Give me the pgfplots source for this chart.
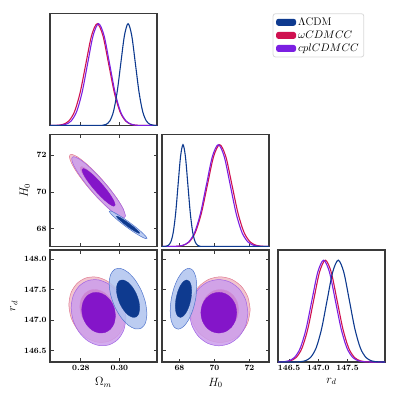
\documentclass[border=0pt]{standalone}
\usepackage{pgfplots}
\pgfplotsset{compat=1.18}
\definecolor{lcdm}{HTML}{0E3A8F}
\definecolor{lcdmlight}{HTML}{AFC3EF}
\definecolor{lcdmedge}{HTML}{4F74CC}
\definecolor{wcdm}{HTML}{CF1150}
\definecolor{wcdmlight}{HTML}{F2C4CE}
\definecolor{wcdmedge}{HTML}{E07A92}
\definecolor{cpl}{HTML}{7B1FE2}
\definecolor{cplin}{HTML}{8415C9}
\definecolor{cpllight}{HTML}{CC9EEC}
\definecolor{cpledge}{HTML}{A164E4}
\definecolor{framegray}{HTML}{3A3A3A}

\pgfplotsset{
  panel/.style={scale only axis, width=107pt, height=112pt, anchor=south west,
    axis line style={draw=framegray, line width=1.1pt},
    tick style={draw=framegray, line width=0.9pt},
    major tick length=3.5pt, tick align=inside,
    ticklabel style={font=\fontsize{8}{9}\selectfont\bfseries},
    label style={font=\fontsize{12}{14}\selectfont}},
  twod/.style={panel, xtick pos=both, ytick pos=both},
  oned/.style={panel, ymin=0, ymax=1.1, ytick=\empty, xtick pos=left},
  omx/.style={xmin=0.264, xmax=0.3195, xtick={0.28,0.30}},
  hx/.style={xmin=67.0, xmax=73.12, xtick={68,70,72}},
  hy/.style={ymin=67.04, ymax=73.12, ytick={68,70,72}},
  rx/.style={xmin=146.31, xmax=148.14},
  ry/.style={ymin=146.31, ymax=148.15, ytick={146.5,147.0,147.5,148.0}},
  cl/.style={smooth, line width=1.1pt, draw=lcdm},
  cw/.style={smooth, line width=1.1pt, draw=wcdm},
  cc/.style={smooth, line width=1.1pt, draw=cpl},
  lo/.style={smooth, draw=lcdmedge, line width=0.5pt, fill=lcdmlight, fill opacity=0.85},
  li/.style={smooth, draw=lcdm, line width=0.3pt, fill=lcdm},
  wo/.style={smooth, draw=wcdmedge, line width=0.5pt, fill=wcdmlight},
  wi/.style={smooth, draw=wcdm, line width=0.3pt, fill=wcdm},
  co/.style={smooth, draw=cpledge, line width=0.5pt, fill=cpllight, fill opacity=0.85},
  ci/.style={smooth, draw=cplin, line width=0.3pt, fill=cplin},
}

\begin{document}
\begin{tikzpicture}
\useasboundingbox (0pt,0pt) rectangle (399pt,399pt);

% --- Omega_m 1D (top left) with legend
\begin{axis}[oned, omx, at={(50pt,273.5pt)}, xticklabels={},
  legend style={at={(2.081,1.002)}, anchor=north west, draw=black!15,
    rounded corners=2.5pt, line width=0.8pt, fill=white,
    font=\fontsize{11}{13}\selectfont, inner xsep=3pt, inner ysep=2pt,
    row sep=0pt},
  legend cell align=left,
  legend image code/.code={\fill[#1] (0pt,-3.5pt) rectangle (20pt,3.5pt);}]
\addlegendimage{fill=lcdm, draw=none}\addlegendentry{$\Lambda$CDM}
\addlegendimage{fill=wcdm, draw=none}\addlegendentry{$\omega CDMCC$}
\addlegendimage{fill=cpl, draw=none}\addlegendentry{$cplCDMCC$}
\addplot[cw, forget plot] coordinates {(0.2640,0) (0.2649,0.0003) (0.26785,0.0022) (0.2708,0.0111) (0.27375,0.0439) (0.2767,0.1353) (0.27965,0.3247) (0.2826,0.6065) (0.28555,0.8825) (0.2885,1) (0.29145,0.8825) (0.2944,0.6065) (0.29735,0.3247) (0.3003,0.1353) (0.30325,0.0439) (0.3062,0.0111) (0.30915,0.0022) (0.3121,0.0003) (0.3195,0)};
\addplot[cc, forget plot] coordinates {(0.2640,0) (0.2664,0.0003) (0.26925,0.0022) (0.2721,0.0111) (0.27495,0.0439) (0.2778,0.1353) (0.28065,0.3247) (0.2835,0.6065) (0.28635,0.8825) (0.2892,1) (0.29205,0.8825) (0.2949,0.6065) (0.29775,0.3247) (0.3006,0.1353) (0.30345,0.0439) (0.3063,0.0111) (0.30915,0.0022) (0.312,0.0003) (0.3195,0)};
\addplot[cl, forget plot] coordinates {(0.264,0) (0.2893,0.0003) (0.2912,0.0022) (0.2931,0.0111) (0.2950,0.0439) (0.2969,0.1353) (0.2988,0.3247) (0.3007,0.6065) (0.3026,0.8825) (0.3045,1) (0.3064,0.8825) (0.3083,0.6065) (0.3102,0.3247) (0.3121,0.1353) (0.3140,0.0439) (0.3159,0.0111) (0.3178,0.0022) (0.3197,0.0003)};
\end{axis}

% --- Omega_m vs H0
\begin{axis}[twod, omx, hy, at={(50pt,152.5pt)}, xticklabels={},
  yticklabels={68,70,72}, ylabel={$H_0$}]
\addplot[wo] coordinates {(0.30296,68.735) (0.30186,69.098) (0.29872,69.648) (0.29403,70.302) (0.2885,70.960) (0.28297,71.523) (0.27828,71.904) (0.27515,72.045) (0.27405,71.925) (0.27515,71.562) (0.27828,71.012) (0.28297,70.358) (0.2885,69.700) (0.29403,69.137) (0.29872,68.756) (0.30186,68.615) (0.30296,68.735)} -- cycle;
\addplot[wi] coordinates {(0.29741,69.347) (0.29673,69.571) (0.2948,69.910) (0.29191,70.313) (0.2885,70.719) (0.28509,71.065) (0.2822,71.300) (0.28027,71.387) (0.27959,71.313) (0.28027,71.090) (0.2822,70.750) (0.28509,70.347) (0.2885,69.941) (0.29191,69.595) (0.2948,69.360) (0.29673,69.273) (0.29741,69.347)} -- cycle;
\addplot[co] coordinates {(0.30317,68.701) (0.3021,69.053) (0.29908,69.587) (0.29454,70.223) (0.2892,70.862) (0.28386,71.409) (0.27933,71.779) (0.2763,71.916) (0.27524,71.799) (0.2763,71.447) (0.27933,70.913) (0.28386,70.277) (0.2892,69.638) (0.29454,69.091) (0.29908,68.721) (0.3021,68.584) (0.30317,68.701)} -- cycle;
\addplot[ci] coordinates {(0.29781,69.295) (0.29715,69.512) (0.29529,69.842) (0.29249,70.233) (0.2892,70.627) (0.28591,70.964) (0.28311,71.192) (0.28125,71.277) (0.28059,71.205) (0.28125,70.988) (0.28311,70.658) (0.28591,70.267) (0.2892,69.873) (0.29249,69.536) (0.29529,69.308) (0.29715,69.223) (0.29781,69.295)} -- cycle;
\addplot[lo] coordinates {(0.3143,67.483) (0.31355,67.610) (0.31143,67.830) (0.30825,68.109) (0.3045,68.405) (0.30075,68.673) (0.29757,68.871) (0.29545,68.971) (0.2947,68.957) (0.29545,68.830) (0.29757,68.610) (0.30075,68.331) (0.3045,68.035) (0.30825,67.768) (0.31143,67.569) (0.31355,67.469) (0.3143,67.483)} -- cycle;
\addplot[li] coordinates {(0.31054,67.766) (0.31008,67.844) (0.30877,67.979) (0.30681,68.151) (0.3045,68.334) (0.30219,68.499) (0.30023,68.622) (0.29892,68.683) (0.29846,68.674) (0.29892,68.596) (0.30023,68.461) (0.30219,68.289) (0.3045,68.106) (0.30681,67.941) (0.30877,67.818) (0.31008,67.757) (0.31054,67.766)} -- cycle;
\end{axis}

% --- H0 1D
\begin{axis}[oned, hx, at={(162pt,152.5pt)}, xticklabels={}]
\addplot[cw] coordinates {(67.0,0) (67.5,0.0003) (67.85,0.0022) (68.2,0.0111) (68.55,0.0439) (68.9,0.1353) (69.25,0.3247) (69.6,0.6065) (69.95,0.8825) (70.3,1) (70.65,0.8825) (71.0,0.6065) (71.35,0.3247) (71.7,0.1353) (72.05,0.0439) (72.4,0.0111) (72.75,0.0022) (73.1,0.0003)};
\addplot[cc] coordinates {(67.0,0) (67.5,0.0003) (67.84,0.0022) (68.18,0.0111) (68.52,0.0439) (68.86,0.1353) (69.2,0.3247) (69.54,0.6065) (69.88,0.8825) (70.22,1) (70.56,0.8825) (70.9,0.6065) (71.24,0.3247) (71.58,0.1353) (71.92,0.0439) (72.26,0.0111) (72.6,0.0022) (72.94,0.0003) (73.12,0)};
\addplot[cl] coordinates {(67.0,0) (67.08,0.0003) (67.22,0.0022) (67.36,0.0111) (67.5,0.0439) (67.64,0.1353) (67.78,0.3247) (67.92,0.6065) (68.06,0.8825) (68.2,1) (68.34,0.8825) (68.48,0.6065) (68.62,0.3247) (68.76,0.1353) (68.9,0.0439) (69.04,0.0111) (69.18,0.0022) (69.32,0.0003) (73.12,0)};
\end{axis}

% --- Omega_m vs r_d
\begin{axis}[twod, omx, ry, at={(50pt,37pt)}, xticklabels={0.28,0.30},
  yticklabels={146.5,147.0,147.5,148.0}, xlabel={$\Omega_m$}, ylabel={$r_d$}]
\addplot[wo] coordinates {(0.3032,147.089) (0.30208,147.299) (0.29889,147.490) (0.29413,147.631) (0.2885,147.703) (0.28287,147.693) (0.27811,147.604) (0.27492,147.449) (0.2738,147.251) (0.27492,147.041) (0.27811,146.850) (0.28287,146.709) (0.2885,146.637) (0.29413,146.647) (0.29889,146.736) (0.30208,146.891) (0.3032,147.089)} -- cycle;
\addplot[wi] coordinates {(0.29756,147.120) (0.29687,147.250) (0.29491,147.367) (0.29197,147.454) (0.2885,147.498) (0.28503,147.493) (0.28209,147.437) (0.28013,147.342) (0.27944,147.220) (0.28013,147.090) (0.28209,146.973) (0.28503,146.886) (0.2885,146.842) (0.29197,146.848) (0.29491,146.903) (0.29687,146.998) (0.29756,147.120)} -- cycle;
\addplot[co] coordinates {(0.30341,147.038) (0.30233,147.250) (0.29925,147.443) (0.29464,147.586) (0.2892,147.658) (0.28376,147.648) (0.27915,147.558) (0.27607,147.401) (0.27499,147.202) (0.27607,146.990) (0.27915,146.797) (0.28376,146.654) (0.2892,146.582) (0.29464,146.592) (0.29925,146.682) (0.30233,146.839) (0.30341,147.038)} -- cycle;
\addplot[ci] coordinates {(0.29796,147.070) (0.29729,147.200) (0.29539,147.319) (0.29255,147.407) (0.2892,147.451) (0.28585,147.445) (0.28301,147.390) (0.28111,147.293) (0.28044,147.170) (0.28111,147.040) (0.28301,146.921) (0.28585,146.833) (0.2892,146.789) (0.29255,146.795) (0.29539,146.850) (0.29729,146.947) (0.29796,147.070)} -- cycle;
\addplot[lo] coordinates {(0.3143,147.100) (0.31355,147.285) (0.31143,147.479) (0.30825,147.654) (0.3045,147.783) (0.30075,147.846) (0.29757,147.833) (0.29545,147.747) (0.2947,147.600) (0.29545,147.415) (0.29757,147.221) (0.30075,147.046) (0.3045,146.917) (0.30825,146.854) (0.31143,146.867) (0.31355,146.953) (0.3143,147.100)} -- cycle;
\addplot[li] coordinates {(0.31054,147.196) (0.31008,147.310) (0.30877,147.430) (0.30681,147.538) (0.3045,147.617) (0.30219,147.655) (0.30023,147.648) (0.29892,147.594) (0.29846,147.504) (0.29892,147.390) (0.30023,147.270) (0.30219,147.163) (0.3045,147.083) (0.30681,147.045) (0.30877,147.052) (0.31008,147.106) (0.31054,147.196)} -- cycle;
\end{axis}

% --- H0 vs r_d
\begin{axis}[twod, hx, ry, at={(162pt,37pt)}, xticklabels={68,70,72},
  yticklabels={}, xlabel={$H_0$}]
\addplot[wo] coordinates {(72.045,147.170) (71.9145,147.376) (71.5427,147.551) (70.9863,147.668) (70.33,147.709) (69.6737,147.668) (69.1173,147.551) (68.7455,147.376) (68.615,147.170) (68.7455,146.964) (69.1173,146.789) (69.6737,146.672) (70.33,146.631) (70.9863,146.672) (71.5427,146.789) (71.9145,146.964) (72.045,147.170)} -- cycle;
\addplot[wi] coordinates {(71.387,147.170) (71.3066,147.297) (71.0774,147.405) (70.7345,147.477) (70.33,147.502) (69.9255,147.477) (69.5826,147.405) (69.3534,147.297) (69.273,147.170) (69.3534,147.043) (69.5826,146.935) (69.9255,146.863) (70.33,146.838) (70.7345,146.863) (71.0774,146.935) (71.3066,147.043) (71.387,147.170)} -- cycle;
\addplot[co] coordinates {(71.916,147.120) (71.7892,147.328) (71.428,147.505) (70.8876,147.623) (70.25,147.664) (69.6124,147.623) (69.072,147.505) (68.7108,147.328) (68.584,147.120) (68.7108,146.912) (69.072,146.735) (69.6124,146.617) (70.25,146.576) (70.8876,146.617) (71.428,146.735) (71.7892,146.912) (71.916,147.120)} -- cycle;
\addplot[ci] coordinates {(71.2768,147.120) (71.1987,147.248) (70.9761,147.357) (70.643,147.430) (70.25,147.455) (69.857,147.430) (69.5239,147.357) (69.3013,147.248) (69.2232,147.120) (69.3013,146.992) (69.5239,146.883) (69.857,146.810) (70.25,146.785) (70.643,146.810) (70.9761,146.883) (71.1987,146.992) (71.2768,147.120)} -- cycle;
\addplot[lo] coordinates {(68.9895,147.550) (68.9317,147.710) (68.767,147.815) (68.5207,147.850) (68.23,147.808) (67.9393,147.697) (67.693,147.533) (67.5283,147.341) (67.4705,147.150) (67.5283,146.990) (67.693,146.885) (67.9393,146.850) (68.23,146.892) (68.5207,147.003) (68.767,147.167) (68.9317,147.359) (68.9895,147.550)} -- cycle;
\addplot[li] coordinates {(68.698,147.473) (68.662,147.572) (68.561,147.637) (68.409,147.658) (68.23,147.632) (68.051,147.564) (67.899,147.463) (67.798,147.344) (67.762,147.227) (67.798,147.128) (67.899,147.063) (68.051,147.042) (68.23,147.068) (68.409,147.136) (68.561,147.237) (68.662,147.356) (68.698,147.473)} -- cycle;
\end{axis}

% --- r_d 1D
\begin{axis}[oned, rx, at={(278pt,37pt)}, xtick={146.5,147.0,147.5},
  xticklabels={146.5,147.0,147.5}, xlabel={$r_d$}]
\addplot[cw] coordinates {(146.31,0) (146.32,0.0003) (146.42,0.0022) (146.52,0.0111) (146.62,0.0439) (146.72,0.1353) (146.82,0.3247) (146.92,0.6065) (147.02,0.8825) (147.12,1) (147.22,0.8825) (147.32,0.6065) (147.42,0.3247) (147.52,0.1353) (147.62,0.0439) (147.72,0.0111) (147.82,0.0022) (147.92,0.0003) (148.14,0)};
\addplot[cc] coordinates {(146.29,0.0003) (146.39,0.0022) (146.49,0.0111) (146.59,0.0439) (146.69,0.1353) (146.79,0.3247) (146.89,0.6065) (146.99,0.8825) (147.09,1) (147.19,0.8825) (147.29,0.6065) (147.39,0.3247) (147.49,0.1353) (147.59,0.0439) (147.69,0.0111) (147.79,0.0022) (147.89,0.0003) (148.14,0)};
\addplot[cl] coordinates {(146.31,0) (146.58,0.0003) (146.675,0.0022) (146.77,0.0111) (146.865,0.0439) (146.96,0.1353) (147.055,0.3247) (147.15,0.6065) (147.245,0.8825) (147.34,1) (147.435,0.8825) (147.53,0.6065) (147.625,0.3247) (147.72,0.1353) (147.815,0.0439) (147.91,0.0111) (148.005,0.0022) (148.1,0.0003) (148.14,0)};
\end{axis}
\end{tikzpicture}
\end{document}
